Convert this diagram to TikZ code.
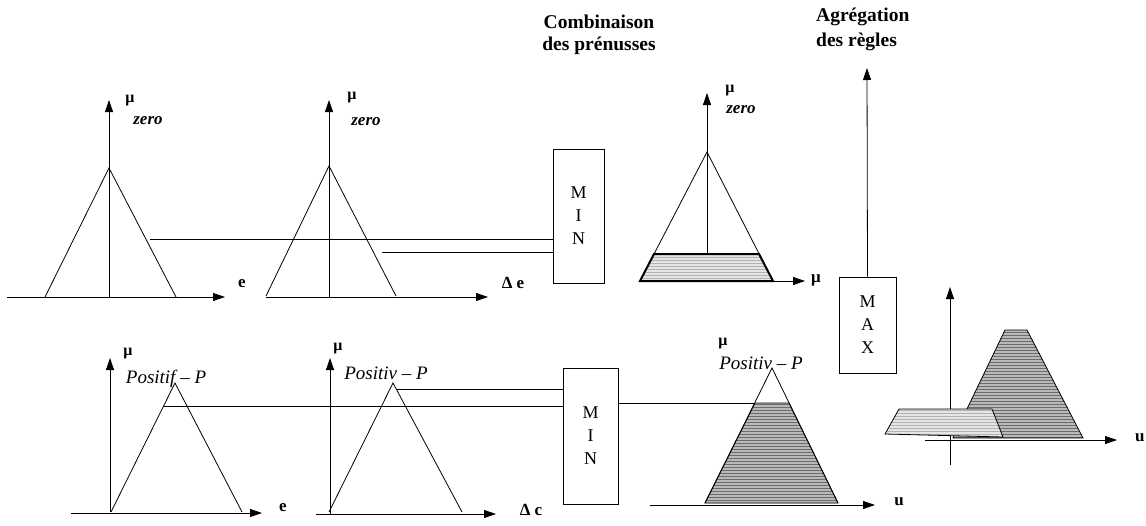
\documentclass[tikz,border=0pt]{standalone}
\usepackage{fontspec}
\setmainfont{Liberation Serif}
\usetikzlibrary{arrows.meta,patterns}
\begin{document}
\begin{tikzpicture}[x=1pt,y=-1pt,
  ln/.style={line width=0.8pt},
  ax/.style={line width=0.8pt,-{Triangle[length=12pt,width=8pt]}},
  opbox/.style={draw,line width=0.9pt,align=center,font=\fontsize{18}{23}\selectfont,inner sep=0pt},
  mulab/.style={font=\fontsize{16}{16}\selectfont\bfseries,inner sep=0pt},
  setlab/.style={font=\fontsize{17}{17}\selectfont\bfseries\itshape,inner sep=0pt},
  poslab/.style={font=\fontsize{19}{19}\selectfont\itshape,inner sep=0pt},
  axlab/.style={font=\fontsize{17}{17}\selectfont\bfseries,inner sep=0pt},
  ttl/.style={font=\fontsize{19.5}{24}\selectfont\bfseries,inner sep=0pt},
  shadeA/.style={preaction={fill=gray!55},pattern=horizontal lines,pattern color=gray!85!black},
  shadeB/.style={preaction={fill=gray!20},pattern=horizontal lines,pattern color=gray!60},
]
\useasboundingbox (0,0) rectangle (1146,525);

% titles
\node[ttl] (t1a) at (599,22) {Combinaison};
\node[ttl] (t1b) at (599,46) {des prénusses};
\node[ttl,anchor=west] (t2a) at (816,17) {Agrégation};
\node[ttl,anchor=west] (t2b) at (816,42) {des règles};

% boxes
\node[opbox,minimum width=51pt,minimum height=134pt] (min1) at (578.5,216) {M\\I\\N};
\node[opbox,minimum width=55pt,minimum height=136pt] (min2) at (590.5,436) {M\\I\\N};
\node[opbox,minimum width=57pt,minimum height=96pt] (max) at (867.5,325) {M\\A\\X};

% ---------- top row ----------
% panel 1
\draw[ax] (7,297) -- (225,297);
\draw[ax] (109,297) -- (109,100);
\draw[ln] (45,297) -- (109,168) -- (176,297);
\node[mulab] (mu1) at (130,101) {μ};
\node[setlab] (zero1) at (148,121) {zero};
\node[axlab] (e1) at (242,284) {e};
\coordinate (z1) at (150,239);
\draw[ln] (z1) -- (z1 -| min1.west);

% panel 2
\draw[ax] (266,297) -- (488,297);
\draw[ax] (329,297) -- (329,100);
\draw[ln] (266,296) -- (329,166) -- (396,296);
\node[mulab] (mu2) at (352,98) {μ};
\node[setlab] (zero2) at (366,122) {zero};
\node[axlab] (de1) at (513,283) {Δ e};
\coordinate (z2) at (382,252);
\draw[ln] (z2) -- (z2 -| min1.west);

% panel 3
\draw[ax] (640,281) -- (805,281);
\draw[ax] (707,281) -- (707,93);
\draw[ln] (640,281) -- (707,152) -- (773,281);
\draw[line width=2pt,shadeB] (640,281) -- (654,254) -- (759,254) -- (773,281) -- cycle;
\node[mulab] (mu3) at (730,91) {μ};
\node[setlab] (zero3) at (741,110) {zero};
\node[axlab] (mu3x) at (816,280) {μ};

% ---------- bottom row ----------
% panel 4
\draw[ax] (71,513) -- (262,513);
\draw[ax] (110,512) -- (110,358);
\draw[ln] (111,512) -- (175,383) -- (242,512);
\node[mulab] (mu4) at (128,354) {μ};
\node[poslab] (pos4) at (166,379) {Positif – P};
\node[axlab] (e2) at (283,508) {e};
\coordinate (z4) at (163,406);
\draw[ln] (z4) -- (z4 -| min2.west);

% panel 5
\draw[ax] (316,514) -- (496,514);
\draw[ax] (330,514) -- (330,358);
\draw[ln] (329,512) -- (393,383) -- (462,512);
\node[mulab] (mu5) at (338,349) {μ};
\node[poslab] (pos5) at (386,373) {Positiv – P};
\node[axlab] (de2) at (531,510) {Δ c};
\coordinate (z5) at (396,389);
\draw[ln] (z5) -- (z5 -| min2.west);

% panel 6
\draw[ax] (650,505) -- (875,505);
\draw[ln,shadeA] (705,503) -- (755,403) -- (789,403) -- (838,503) -- cycle;
\draw[ln] (705,503) -- (772,368) -- (838,503);
\node[mulab] (mu6) at (723,344) {μ};
\node[poslab] (pos6) at (761,363) {Positiv – P};
\node[axlab] (u1) at (899,502) {u};
\coordinate (z6) at (755,403);
\draw[ln] (z6 -| min2.east) -- (z6);

% aggregation arrow
\coordinate (aggtop) at (867,68);
\draw[ax] (max.north) -- (aggtop);

% output graph
\draw[ax] (950,465) -- (950,287);
\draw[ax] (925,440) -- (1117,440);
\draw[ln,shadeA] (953,438) -- (1005,330) -- (1027,330) -- (1083,438) -- cycle;
\draw[ln,shadeB] (885,434) -- (899,409) -- (992,409) -- (1003,437) -- cycle;
\node[axlab,anchor=west] (u2) at (1135,438) {u};
\end{tikzpicture}
\end{document}
